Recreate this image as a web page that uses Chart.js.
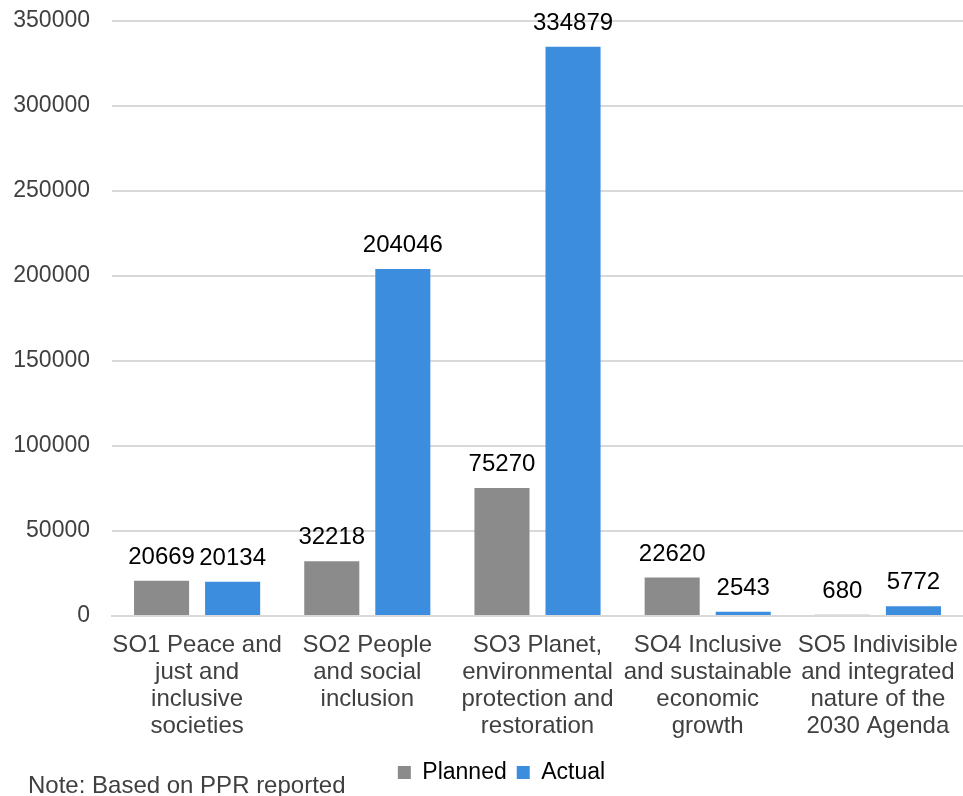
<!DOCTYPE html>
<html>
<head>
<meta charset="utf-8">
<script src="https://cdn.jsdelivr.net/npm/chart.js@4"></script>
<style>
  html, body { margin: 0; padding: 0; background: #fff; }
  #wrap { position: relative; width: 963px; height: 796px; }
  #note { position: absolute; left: 28px; top: 771px; font: 24px "Liberation Sans", Arial, sans-serif; color: #404040; }
</style>
</head>
<body>
<div id="wrap">
  <canvas id="myChart" width="963" height="796"></canvas>
  <div id="note">Note: Based on PPR reported</div>
</div>
<script>
var categories = [
    ["SO1 Peace and", "just and", "inclusive", "societies"],
    ["SO2 People", "and social", "inclusion"],
    ["SO3 Planet,", "environmental", "protection and", "restoration"],
    ["SO4 Inclusive", "and sustainable", "economic", "growth"],
    ["SO5 Indivisible", "and integrated", "nature of the", "2030 Agenda"]
];
var planned = [20669, 32218, 75270, 22620, 680];
var actual = [20134, 204046, 334879, 2543, 5772];
var yTicks = [0, 50000, 100000, 150000, 200000, 250000, 300000, 350000];

var FONT = '"Liberation Sans", Arial, sans-serif';

// draw the value above each bar
var valueLabels = {
    id: 'valueLabels',
    afterDatasetsDraw: function(chart){
        var ctx = chart.ctx;
        ctx.save();
        ctx.font = '24px ' + FONT;
        ctx.fillStyle = '#000';
        ctx.textAlign = 'center';
        ctx.textBaseline = 'alphabetic';
        chart.data.datasets.forEach(function(ds, i){
            chart.getDatasetMeta(i).data.forEach(function(bar, j){
                ctx.fillText(String(ds.data[j]), bar.x, bar.y - 17);
            });
        });
        ctx.restore();
    }
};

// legend sits a bit right of centre in the original
var legendShift = {
    id: 'legendShift',
    afterLayout: function(chart){
        chart.legend.left += 20;
        chart.legend.right += 20;
    }
};

var ctx = document.getElementById("myChart").getContext("2d");
var barChart = new Chart(ctx, {
    type: 'bar',
    data: {
        labels: categories,
        datasets: [
            { label: 'Planned', data: planned, backgroundColor: '#8b8b8b' },
            { label: 'Actual', data: actual, backgroundColor: '#3c8ddd' }
        ]
    },
    options: {
        responsive: false,
        animation: false,
        devicePixelRatio: 1,
        layout: { padding: { top: 21, right: 0, left: 0, bottom: 2 } },
        datasets: {
            bar: { categoryPercentage: 0.835, barPercentage: 0.775 }
        },
        plugins: {
            legend: {
                position: 'bottom',
                labels: {
                    color: '#000',
                    font: { family: FONT, size: 23 },
                    boxWidth: 13,
                    boxHeight: 13,
                    padding: 10
                }
            },
            tooltip: { enabled: false }
        },
        scales: {
            x: {
                grid: { display: false, drawTicks: false },
                border: { color: '#d9d9d9', width: 2 },
                afterFit: function(scale){
                    scale.height -= 5;
                    scale.paddingLeft = 0;
                    scale.paddingRight = 0;
                },
                ticks: {
                    color: '#404040',
                    font: { family: FONT, size: 24, lineHeight: 1.125 },
                    padding: 16,
                    maxRotation: 0,
                    autoSkip: false
                }
            },
            y: {
                min: 0,
                max: 350000,
                afterBuildTicks: function(scale){
                    scale.ticks = yTicks.map(function(v){ return { value: v }; });
                },
                afterFit: function(scale){
                    scale.width = 112;
                    scale.paddingTop = 0;
                    scale.paddingBottom = 0;
                },
                grid: { color: '#d9d9d9', lineWidth: 2, drawTicks: false },
                border: { display: false },
                ticks: {
                    color: '#404040',
                    font: { family: FONT, size: 23 },
                    padding: 22,
                    callback: function(v){ return String(v); }
                }
            }
        }
    },
    plugins: [valueLabels, legendShift]
});
</script>
</body>
</html>
